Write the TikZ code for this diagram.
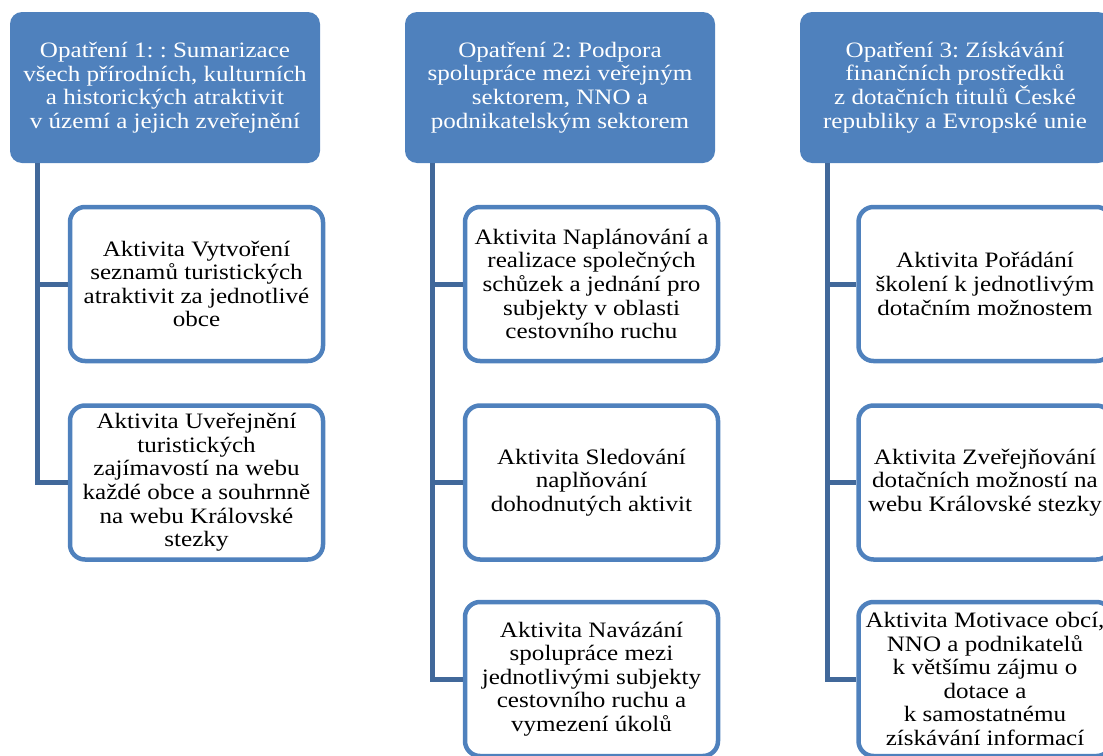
\documentclass[tikz,border=0pt]{standalone}
\usepackage{fontspec}
\setmainfont{Liberation Serif}[FakeStretch=1.14]
\usepackage{xcolor}
\usepackage{tikz}
\definecolor{headblue}{HTML}{4F81BD}
\definecolor{lineblue}{HTML}{41689A}
\frenchspacing

\begin{document}
\begin{tikzpicture}[x=1pt, y=-1pt,
  opatreni/.style={fill=headblue, text=white, rounded corners=12pt, inner sep=0pt,
    minimum width=310pt, minimum height=151pt, align=center,
    font=\fontsize{22}{23.6}\selectfont},
  aktivita/.style={draw=headblue, line width=4.5pt, fill=white, rounded corners=15pt, inner sep=0pt,
    minimum width=253pt, minimum height=154pt, align=center,
    font=\fontsize{22}{23.6}\selectfont},
  vetev/.style={draw=lineblue, line width=5pt}]
\useasboundingbox (0,0) rectangle (1103,755);
\clip (0,0) rectangle (1103,755);

% opatreni
\node [opatreni] (o1) at (165,87.5) {Opatření 1: : Sumarizace\\ všech přírodních, kulturních\\ a historických atraktivit\\ v území a jejich zveřejnění};
\node [opatreni] (o2) at (560,87.5) {Opatření 2: Podpora\\ spolupráce mezi veřejným\\ sektorem, NNO a\\ podnikatelským sektorem};
\node [opatreni] (o3) at (955,87.5) {Opatření 3: Získávání\\ finančních prostředků\\ z dotačních titulů České\\ republiky a Evropské unie};

% aktivity
\node [aktivita] (a11) at (196.5,284) {Aktivita Vytvoření\\ seznamů turistických\\ atraktivit za jednotlivé\\ obce};
\node [aktivita] (a12) at (196.5,482.5) {Aktivita Uveřejnění\\ turistických\\ zajímavostí na webu\\ každé obce a souhrnně\\ na webu Královské\\ stezky};
\node [aktivita] (a21) at (591.5,284) {Aktivita Naplánování a\\ realizace společných\\ schůzek a jednání pro\\ subjekty v oblasti\\ cestovního ruchu};
\node [aktivita] (a22) at (591.5,482.5) {Aktivita Sledování\\ naplňování\\ dohodnutých aktivit};
\node [aktivita] (a23) at (591.5,679) {Aktivita Navázání\\ spolupráce mezi\\ jednotlivými subjekty\\ cestovního ruchu a\\ vymezení úkolů};
\node [aktivita] (a31) at (985,284) {Aktivita Pořádání\\ školení k jednotlivým\\ dotačním možnostem};
\node [aktivita] (a32) at (985,482.5) {Aktivita Zveřejňování\\ dotačních možností na\\ webu Královské stezky};
\node [aktivita] (a33) at (985,679) {Aktivita Motivace obcí,\\ NNO a podnikatelů\\ k většímu zájmu o\\ dotace a\\ k samostatnému\\ získávání informací};

% vetve
\coordinate (k1) at ([xshift=28pt]o1.south west);
\coordinate (k2) at ([xshift=28pt]o2.south west);
\coordinate (k3) at ([xshift=28pt]o3.south west);
\draw [vetev] (k1) |- (a12.west);
\draw [vetev] (k1 |- a11.west) -- (a11.west);
\draw [vetev] (k2) |- (a23.west);
\draw [vetev] (k2 |- a21.west) -- (a21.west);
\draw [vetev] (k2 |- a22.west) -- (a22.west);
\draw [vetev] (k3) |- (a33.west);
\draw [vetev] (k3 |- a31.west) -- (a31.west);
\draw [vetev] (k3 |- a32.west) -- (a32.west);
\end{tikzpicture}
\end{document}
